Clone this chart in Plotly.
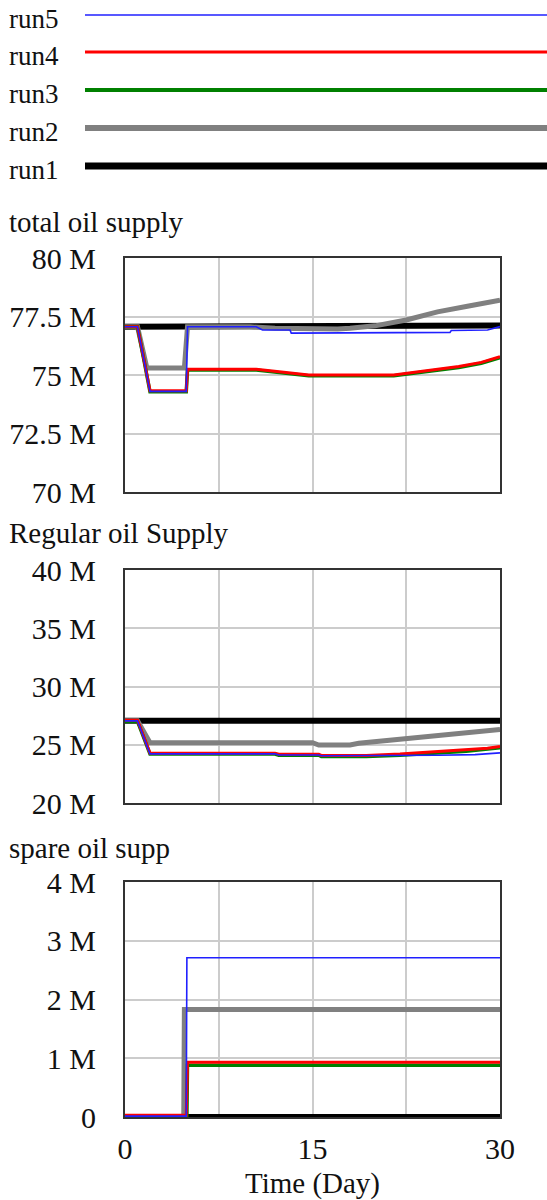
import plotly.graph_objects as go

# ---- data (values in millions, time in days) ----
runs = ["run1", "run2", "run3", "run4", "run5"]
colors = {"run1": "#000000", "run2": "#808080", "run3": "#008000", "run4": "#ff0000", "run5": "#2020ff"}
widths = {"run1": 6, "run2": 5, "run3": 3.5, "run4": 3, "run5": 1.6}
legend_widths = {"run1": 7, "run2": 6, "run3": 4, "run4": 3, "run5": 1.6}

# total oil supply
total_t = {
    "run1": [0, 25, 30],
    "run2": [0, 1, 1.75, 4.75, 5, 10, 12, 15, 17, 18, 20, 22.5, 25, 27.5, 30],
    "run3": [0, 1, 2, 4.9, 5, 10.5, 12.7, 14.7, 21.5, 23.3, 26.7, 28.5, 30],
    "run4": [0, 1, 2, 4.9, 5, 10.5, 12.7, 14.7, 21.5, 23.3, 26.7, 28.5, 30],
    "run5": [0, 1, 2, 4.9, 5, 10.5, 11, 13.2, 13.3, 22.9, 23, 26, 26.1, 29, 30],
}
total_v = {
    "run1": [77.06, 77.06, 77.12],
    "run2": [77.06, 77.06, 75.3, 75.3, 77.06, 77.06, 77.0, 76.95, 76.97, 77.0, 77.1, 77.35, 77.7, 77.95, 78.2],
    "run3": [77.06, 77.06, 74.28, 74.28, 75.21, 75.21, 75.08, 74.97, 74.97, 75.09, 75.32, 75.5, 75.74],
    "run4": [77.06, 77.06, 74.33, 74.33, 75.25, 75.25, 75.12, 75.0, 75.0, 75.13, 75.36, 75.54, 75.78],
    "run5": [77.06, 77.06, 74.3, 74.3, 77.06, 77.06, 76.92, 76.92, 76.79, 76.79, 76.82, 76.82, 76.9, 76.92, 77.07],
}

# regular oil supply
regular_t = {
    "run1": [0, 30],
    "run2": [0, 1, 2, 15, 15.5, 18, 18.7, 21.3, 24, 26.7, 30],
    "run3": [0, 1, 2, 12, 12.3, 15.5, 15.7, 19.3, 22, 24.7, 27.3, 30],
    "run4": [0, 1, 2, 12, 12.3, 15.5, 15.7, 19.3, 22, 24.7, 27.3, 29, 30],
    "run5": [0, 1, 2, 12, 12.3, 15.5, 15.7, 22, 25, 28, 29.5, 30],
}
regular_v = {
    "run1": [27.07, 27.07],
    "run2": [27.07, 27.07, 25.18, 25.18, 24.98, 24.98, 25.12, 25.4, 25.7, 25.98, 26.32],
    "run3": [27.0, 27.0, 24.2, 24.2, 24.1, 24.1, 24.0, 24.0, 24.1, 24.25, 24.45, 24.75],
    "run4": [27.1, 27.1, 24.28, 24.28, 24.18, 24.18, 24.08, 24.08, 24.2, 24.38, 24.55, 24.7, 24.85],
    "run5": [27.05, 27.05, 24.22, 24.22, 24.12, 24.12, 24.05, 24.05, 24.1, 24.15, 24.25, 24.3],
}

# spare oil supply
spare_t = {
    "run1": [5, 30],
    "run2": [0, 4.7, 4.75, 30],
    "run3": [0, 4.95, 5, 30],
    "run4": [0, 4.9, 5, 30],
    "run5": [0, 4.9, 4.95, 30],
}
spare_v = {
    "run1": [0, 0],
    "run2": [0, 0, 1.83, 1.83],
    "run3": [0.0, 0.0, 0.88, 0.88],
    "run4": [0.03, 0.03, 0.93, 0.93],
    "run5": [0.015, 0.015, 2.71, 2.71],
}

panel_titles = ["total oil supply", "Regular oil Supply", "spare oil supp"]
y_ticks = [
    [70, 72.5, 75, 77.5, 80],
    [20, 25, 30, 35, 40],
    [0, 1, 2, 3, 4],
]
y_ticktext = [
    ["70 M", "72.5 M", "75 M", "77.5 M", "80 M"],
    ["20 M", "25 M", "30 M", "35 M", "40 M"],
    ["0", "1 M", "2 M", "3 M", "4 M"],
]
x_ticks = [0, 7.5, 15, 22.5, 30]
x_ticktext = ["0", "", "15", "", "30"]
x_title = "Time (Day)"

# ---- layout geometry ----
W, H = 547, 1200
FONT = "Liberation Serif, Times New Roman, serif"
TEXT = "#111111"


def py(px):
    return 1 - px / H


x_dom = [125 / W, 500 / W]
panel_px = [(258, 492), (570, 803), (882, 1117)]
title_px = [222, 533, 848]

fig = go.Figure()
datasets = [(total_t, total_v), (regular_t, regular_v), (spare_t, spare_v)]
for i, (tt, vv) in enumerate(datasets):
    xa = "x" if i == 0 else f"x{i + 1}"
    ya = "y" if i == 0 else f"y{i + 1}"
    for r in runs:
        fig.add_trace(go.Scatter(
            x=tt[r], y=vv[r], mode="lines", name=r, showlegend=False,
            line=dict(color=colors[r], width=widths[r]),
            xaxis=xa, yaxis=ya, hoverinfo="skip",
        ))

axis_common = dict(
    showline=True, mirror=True, linecolor="#333333", linewidth=2,
    showgrid=True, gridcolor="#cccccc", gridwidth=1.5,
    zeroline=False, ticks="", automargin=False,
)
layout = dict(
    width=W, height=H, margin=dict(l=0, r=0, t=0, b=0, pad=0, autoexpand=False),
    plot_bgcolor="white", paper_bgcolor="white",
    font=dict(family=FONT, color=TEXT),
)
for i in range(3):
    xk = "xaxis" if i == 0 else f"xaxis{i + 1}"
    yk = "yaxis" if i == 0 else f"yaxis{i + 1}"
    top, bot = panel_px[i]
    lo, hi = y_ticks[i][0], y_ticks[i][-1]
    layout[xk] = dict(
        axis_common, domain=x_dom, range=[0, 30],
        tickvals=x_ticks, ticktext=x_ticktext,
        showticklabels=(i == 2), tickfont=dict(size=30, family=FONT),
        ticklabelstandoff=4,
        anchor="y" if i == 0 else f"y{i + 1}",
    )
    layout[yk] = dict(
        axis_common, domain=[py(bot), py(top)], range=[lo, hi],
        tickvals=y_ticks[i], ticktext=y_ticktext[i],
        tickfont=dict(size=30, family=FONT), ticklabelstandoff=21,
        anchor="x" if i == 0 else f"x{i + 1}",
    )
layout["xaxis3"]["title"] = dict(text=x_title, font=dict(size=29, family=FONT), standoff=12)
fig.update_layout(**layout)

# panel titles
for i, t in enumerate(panel_titles):
    fig.add_annotation(
        text=t, x=7 / W, y=py(title_px[i]), xref="paper", yref="paper",
        xanchor="left", yanchor="middle", showarrow=False,
        font=dict(size=29, family=FONT, color=TEXT),
    )

# run legend at the top: label + line sample
legend_y = {"run5": 15, "run4": 52, "run3": 90, "run2": 128, "run1": 166}
for r in runs:
    fig.add_shape(
        type="line", xref="paper", yref="paper",
        x0=85 / W, x1=1.0, y0=py(legend_y[r]), y1=py(legend_y[r]),
        line=dict(color=colors[r], width=legend_widths[r]),
    )
    fig.add_annotation(
        text=r, x=7 / W, y=py(legend_y[r] + 4), xref="paper", yref="paper",
        xanchor="left", yanchor="middle", showarrow=False,
        font=dict(size=27, family=FONT, color=TEXT),
    )

fig.write_html("out.html")
